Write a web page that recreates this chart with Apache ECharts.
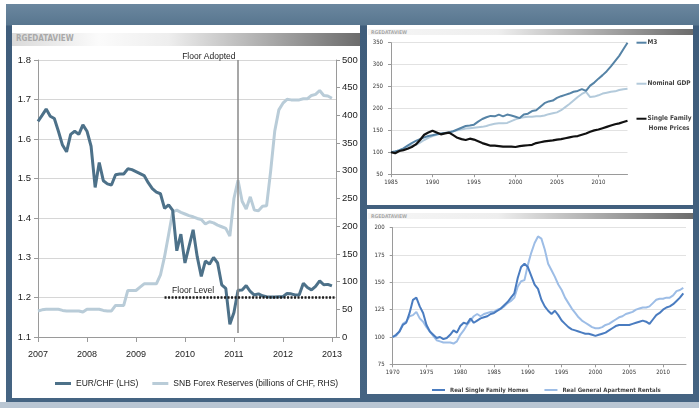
<!DOCTYPE html>
<html>
<head>
<meta charset="utf-8">
<script src="https://cdn.jsdelivr.net/npm/echarts@6/dist/echarts.min.js"></script>
<style>
html, body { margin: 0; padding: 0; background: #fff; }
#wrap { position: relative; width: 699px; height: 408px; overflow: hidden; }
.abs { position: absolute; }
#frame { left: 6px; top: 4px; width: 693px; height: 398px;
  background: linear-gradient(180deg, #6b879f 0px, #58768f 21px, #3f5d7b 22px, #456482 100%); }
#bottom { left: 0; top: 402px; width: 699px; height: 6px; background: #b9c6d3; }
.panel { background: #fff; }
.bar { background: linear-gradient(90deg, #dadada 0%, #fbfbfb 25%, #eeeeee 45%, #6c6c6c 100%); }
.tag { color: #a9a9a9; font-family: "DejaVu Sans Condensed", "DejaVu Sans", sans-serif; font-weight: bold; white-space: nowrap; }
#chart { position: absolute; left: 0; top: 0; width: 699px; height: 408px; }
</style>
</head>
<body>
<div id="wrap">
  <div id="frame" class="abs"></div>
  <div id="bottom" class="abs"></div>
  <div class="abs panel" style="left:12px;top:25px;width:348px;height:373px"></div>
  <div class="abs panel" style="left:367px;top:25px;width:326px;height:180px"></div>
  <div class="abs panel" style="left:367px;top:209px;width:326px;height:185px"></div>
  <div class="abs bar" style="left:12px;top:33px;width:348px;height:13px"></div>
  <div class="abs bar" style="left:368px;top:29px;width:325px;height:6px;background:linear-gradient(90deg,#f6f6f6 0%,#eeeeee 40%,#6c6c6c 100%)"></div>
  <div class="abs bar" style="left:368px;top:213px;width:325px;height:6px;background:linear-gradient(90deg,#f6f6f6 0%,#eeeeee 40%,#6c6c6c 100%)"></div>
  <div class="abs tag" style="left:16px;top:34px;font-size:8px">RGEDATAVIEW</div>
  <div class="abs tag" style="left:371px;top:29px;font-size:5px">RGEDATAVIEW</div>
  <div class="abs tag" style="left:371px;top:213px;font-size:5px">RGEDATAVIEW</div>
  <div id="chart"></div>
</div>
<script>
// ---- left panel: EUR/CHF and SNB reserves, monthly Jan 2007 .. Jan 2013 ----
const chfMonths = [];
for (let y = 2007; y <= 2013; y++) {
  for (let m = 1; m <= 12; m++) {
    if (y === 2013 && m > 2) break;
    chfMonths.push(y + "-" + String(m).padStart(2, "0"));
  }
}
const eurChf = [
  1.645, 1.660, 1.676, 1.658, 1.652, 1.620, 1.585, 1.568, 1.612, 1.620, 1.612, 1.636,
  1.620, 1.582, 1.478, 1.541, 1.495, 1.487, 1.484, 1.510, 1.512, 1.512, 1.525, 1.523,
  1.518, 1.513, 1.508, 1.490, 1.475, 1.466, 1.462, 1.425, 1.434, 1.420, 1.318, 1.360,
  1.287, 1.329, 1.371, 1.303, 1.253, 1.292, 1.284, 1.301, 1.287, 1.232, 1.223, 1.132,
  1.162, 1.218, 1.219, 1.230, 1.215, 1.206, 1.209, 1.204, 1.202, 1.201, 1.201, 1.202,
  1.202, 1.210, 1.209, 1.206, 1.207, 1.236, 1.225, 1.219, 1.228, 1.242, 1.232, 1.233,
  1.229
];
const snbReserves = [
  47, 49, 50, 50, 50, 50, 48, 47, 47, 47, 47, 45,
  50, 50, 50, 50, 48, 47, 47, 57, 57, 57, 84, 84,
  84, 90, 96, 96, 96, 96, 112, 145, 185, 226, 229, 225,
  222, 219, 217, 214, 212, 204, 208, 206, 202, 199, 196, 182,
  250, 283, 245, 231, 253, 229, 228, 236, 237, 300, 372, 410,
  422, 429, 428, 428, 428, 430, 430, 436, 438, 445, 436, 435,
  431
];
const floorAdopted = "2011-02";
const floorFrom = "2009-08", floorTo = "2013-02", floorLabelAt = "2010-03";

// ---- top right: M3, GDP, home prices, half-yearly 1985 .. 2013.5 ----
const usYears = [];
for (let y = 1985; y <= 2013.5; y += 0.5) usYears.push(y);
const m3 = [
  100, 102, 105, 109, 115, 121, 126, 130, 134, 137, 139, 141, 143, 144, 145, 148,
  152, 156, 160, 161, 163, 170, 176, 180, 183, 182, 186, 182, 186, 184, 181, 178,
  186, 188, 194, 196, 204, 212, 216, 218, 224, 228, 231, 234, 238, 240, 244, 240,
  252, 259, 268, 276, 285, 296, 308, 320, 335, 350
];
const nominalGdp = [
  100, 102, 104, 107, 111, 115, 117, 122, 128, 133, 137, 140, 142, 144, 146, 148,
  150, 152, 154, 155, 156, 157, 158, 160, 163, 165, 166, 166, 167, 171, 175, 178,
  180, 181, 181, 182, 182, 184, 187, 189, 191, 196, 203, 210, 218, 226, 233, 238,
  226, 227, 230, 234, 236, 238, 239, 242, 244, 245
];
const homePrices = [
  100, 98, 103, 105, 108, 112, 118, 128, 140, 145, 149, 145, 141, 143, 145, 139,
  133, 130, 128, 131, 129, 125, 121, 118, 115, 115, 114, 113, 113, 113, 112, 114,
  115, 116, 117, 121, 123, 125, 126, 127, 129, 130, 132, 134, 136, 137, 140, 143,
  147, 150, 152, 155, 158, 161, 164, 166, 169, 172
];

// ---- bottom right: real homes vs rentals, half-yearly 1970 .. 2013 ----
const realYears = [];
for (let y = 1970; y <= 2013; y += 0.5) realYears.push(y);
const realHomes = [
  100, 102, 105, 111, 113, 122, 134, 136, 128, 122, 111, 105, 102, 99, 100, 98,
  99, 102, 106, 104, 110, 113, 112, 117, 113, 115, 117, 118, 119, 121, 122, 124,
  126, 129, 132, 136, 140, 154, 164, 167, 164, 156, 148, 144, 134, 128, 124, 121,
  124, 120, 115, 112, 109, 107, 106, 105, 104, 103, 103, 102, 101, 102, 103, 104,
  106, 108, 110, 111, 111, 111, 111, 112, 113, 114, 115, 114, 112, 116, 120, 122,
  125, 127, 128, 130, 133, 136, 140
];
const realRentals = [
  100, 101, 105, 112, 114, 119, 120, 123, 117, 114, 109, 105, 101, 97, 96, 95,
  95, 95, 94, 96, 102, 106, 111, 115, 119, 121, 119, 121, 122, 123, 123, 125,
  126, 128, 131, 133, 136, 146, 151, 152, 166, 177, 186, 192, 190, 180, 167, 161,
  155, 148, 143, 136, 131, 126, 122, 118, 115, 113, 111, 109, 108, 108, 109, 111,
  112, 114, 116, 118, 119, 121, 122, 123, 125, 126, 127, 127, 128, 131, 134, 135,
  135, 136, 136, 138, 142, 143, 145
];

const narrow = '"Liberation Sans Narrow", "Liberation Sans", sans-serif';
const small = '"DejaVu Sans Condensed", "DejaVu Sans", sans-serif';
const pair = (xs, ys) => ys.map((v, i) => [xs[i], v]);

const chart = echarts.init(document.getElementById("chart"));

const smallAxisX = (grid, min, max, step, ticks) => ({
  gridIndex: grid, type: "value", min, max, interval: step,
  axisLine: { lineStyle: { color: "#9a9a9a", width: 1 } },
  axisTick: { show: true, length: 3, customValues: ticks, lineStyle: { color: "#9a9a9a" } },
  axisLabel: {
    customValues: ticks, formatter: (v) => String(v),
    fontSize: 6, fontFamily: small, color: "#333", margin: 5,
  },
  splitLine: { show: false },
});
const smallAxisY = (grid, min, max, step) => ({
  gridIndex: grid, type: "value", min, max, interval: step,
  axisLine: { show: true, lineStyle: { color: "#9a9a9a" } },
  axisTick: { show: true, length: 3, lineStyle: { color: "#9a9a9a" } },
  axisLabel: { fontSize: 6, fontFamily: small, color: "#333", margin: 8 },
  splitLine: { lineStyle: { color: "#e2e2e2" } },
});
const endTag = (text, color, rich) => ({
  show: true, distance: 9, color: "#333",
  formatter: text,
  rich: Object.assign({
    b: { width: 10, height: 2, backgroundColor: color, verticalAlign: "middle" },
    s: { width: 11 },
    t: { fontSize: 6.5, fontWeight: "bold", fontFamily: small, color: "#444", padding: [0, 0, 0, 1] },
  }, rich || {}),
});

chart.setOption({
  animation: false,
  grid: [
    { left: 38, top: 60, width: 298, height: 277 },
    { left: 391, top: 42.7, width: 236.5, height: 131.5 },
    { left: 392.7, top: 227.7, width: 293.3, height: 136.6 },
  ],
  legend: [
    {
      left: 50, top: 374, icon: "rect", itemWidth: 16, itemHeight: 3, itemGap: 14, itemTextGap: 3,
      data: ["EUR/CHF (LHS)", "SNB Forex Reserves (billions of CHF, RHS)"],
      textStyle: { fontSize: 8.5, fontFamily: narrow, color: "#222" },
    },
    {
      left: 427, top: 382, icon: "rect", itemWidth: 13, itemHeight: 2, itemGap: 16, itemTextGap: 2,
      data: ["Real Single Family Homes", "Real General Apartment Rentals"],
      textStyle: { fontSize: 6, fontWeight: "bold", fontFamily: small, color: "#444" },
    },
  ],
  xAxis: [
    {
      gridIndex: 0, type: "category", data: chfMonths, boundaryGap: false,
      axisLine: { lineStyle: { color: "#9a9a9a" } },
      axisTick: { interval: (i) => i % 12 === 0, length: 5, lineStyle: { color: "#9a9a9a" } },
      axisLabel: {
        interval: (i) => i % 12 === 0, formatter: (v) => v.slice(0, 4),
        fontSize: 9, fontFamily: narrow, color: "#222", margin: 13,
      },
    },
    smallAxisX(1, 1985, 2013.5, 5, [1985, 1990, 1995, 2000, 2005, 2010]),
    smallAxisX(2, 1970, 2013.4, 5, [1970, 1975, 1980, 1985, 1990, 1995, 2000, 2005, 2010]),
  ],
  yAxis: [
    {
      gridIndex: 0, type: "value", min: 1.1, max: 1.8, interval: 0.1,
      axisLine: { show: true, lineStyle: { color: "#9a9a9a" } },
      axisTick: { show: true, length: 4, lineStyle: { color: "#9a9a9a" } },
      axisLabel: { fontSize: 9.5, fontFamily: narrow, color: "#222", margin: 7, formatter: (v) => v.toFixed(1) },
      splitLine: { lineStyle: { color: "#d6d6d6" } },
    },
    {
      gridIndex: 0, type: "value", min: 0, max: 500, interval: 50, position: "right",
      axisLine: { show: true, lineStyle: { color: "#9a9a9a" } },
      axisTick: { show: true, length: 4, lineStyle: { color: "#9a9a9a" } },
      axisLabel: { fontSize: 9.5, fontFamily: narrow, color: "#222", margin: 6 },
      splitLine: { show: false },
    },
    smallAxisY(1, 50, 350, 50),
    smallAxisY(2, 75, 200, 25),
  ],
  series: [
    {
      name: "SNB Forex Reserves (billions of CHF, RHS)", type: "line",
      xAxisIndex: 0, yAxisIndex: 1, data: snbReserves,
      showSymbol: false, lineStyle: { width: 3, color: "#b9ccd8" }, itemStyle: { color: "#b9ccd8" },
    },
    {
      name: "EUR/CHF (LHS)", type: "line", xAxisIndex: 0, yAxisIndex: 0, data: eurChf,
      showSymbol: false, z: 3,
      lineStyle: { width: 3, color: "#4d7189" }, itemStyle: { color: "#4d7189" },
      markLine: {
        silent: true, symbol: "none", label: { show: false },
        data: [
          [{ coord: [floorAdopted, 1.8], lineStyle: { color: "#8a8a8a", width: 1.5, type: "solid" } },
           { coord: [floorAdopted, 1.11] }],
          [{ coord: [floorFrom, 1.2], lineStyle: { color: "#1c1c1c", width: 2.5, type: [2, 1.5] } },
           { coord: [floorTo, 1.2] }],
        ],
      },
      markPoint: {
        silent: true, symbol: "circle", symbolSize: 1, itemStyle: { color: "rgba(0,0,0,0)" },
        label: { show: true, color: "#222", fontSize: 8.5, fontFamily: narrow },
        data: [
          { coord: [floorAdopted, 1.8], label: { formatter: "Floor Adopted", position: "left", distance: 2, offset: [0, -3] } },
          { coord: [floorLabelAt, 1.2], label: { formatter: "Floor Level", position: "top", distance: 2 } },
        ],
      },
    },
    {
      name: "Nominal GDP", type: "line", xAxisIndex: 1, yAxisIndex: 2,
      data: pair(usYears, nominalGdp), showSymbol: false,
      lineStyle: { width: 2, color: "#b3cadb" }, itemStyle: { color: "#b3cadb" },
      endLabel: Object.assign(endTag("{b|}{t|Nominal GDP}", "#b3cadb"), { offset: [0, -5] }),
    },
    {
      name: "M3", type: "line", xAxisIndex: 1, yAxisIndex: 2,
      data: pair(usYears, m3), showSymbol: false,
      lineStyle: { width: 2, color: "#5583a6" }, itemStyle: { color: "#5583a6" },
      endLabel: endTag("{b|}{t|M3}", "#5583a6"),
    },
    {
      name: "Single Family Home Prices", type: "line", xAxisIndex: 1, yAxisIndex: 2,
      data: pair(usYears, homePrices), showSymbol: false,
      lineStyle: { width: 2.2, color: "#111" }, itemStyle: { color: "#111" },
      endLabel: Object.assign(endTag("{b|}{t|Single Family}\n{s|}{t|Home Prices}", "#111"), { offset: [0, 4] }),
    },
    {
      name: "Real General Apartment Rentals", type: "line", xAxisIndex: 2, yAxisIndex: 3,
      data: pair(realYears, realRentals), showSymbol: false,
      lineStyle: { width: 2, color: "#9dbde6" }, itemStyle: { color: "#9dbde6" },
    },
    {
      name: "Real Single Family Homes", type: "line", xAxisIndex: 2, yAxisIndex: 3,
      data: pair(realYears, realHomes), showSymbol: false,
      lineStyle: { width: 2, color: "#4a7cc0" }, itemStyle: { color: "#4a7cc0" },
    },
  ],
});
</script>
</body>
</html>
